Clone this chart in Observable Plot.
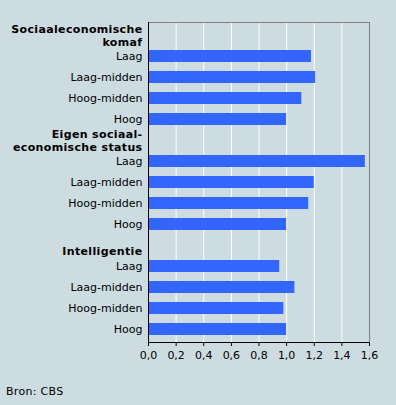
<!DOCTYPE html>
<html>
<head>
<meta charset="utf-8">
<script src="https://cdn.jsdelivr.net/npm/d3@7"></script>
<script src="https://cdn.jsdelivr.net/npm/@observablehq/plot@0.6"></script>
<style>
  html, body { margin: 0; padding: 0; background: #cddce1; }
  body { width: 396px; height: 405px; position: relative; overflow: hidden; font-family: "DejaVu Sans", Verdana, sans-serif; }
  #caption { position: absolute; left: 6px; top: 385px; font-size: 11px; color: #000; letter-spacing: 0.3px; }
</style>
</head>
<body>
<div id="chart"></div>
<div id="caption">Bron: CBS</div>
<script>
const groups = ["Sociaaleconomische\nkomaf", "Eigen sociaal-\neconomische status", "Intelligentie"];
const levels = ["Laag", "Laag-midden", "Hoog-midden", "Hoog"];
const komaf = [1.18, 1.21, 1.11, 1.00];
const status = [1.57, 1.20, 1.16, 1.00];
const intelligentie = [0.95, 1.06, 0.98, 1.00];
const xTicks = [0, 0.2, 0.4, 0.6, 0.8, 1.0, 1.2, 1.4, 1.6];

const series = [komaf, status, intelligentie];
const rows = [];
groups.forEach((g, gi) => {
  rows.push({id: "h" + gi, label: g, header: true, group: gi});
  levels.forEach((l, li) => rows.push({id: gi + "-" + l, label: l, value: series[gi][li], header: false, group: gi}));
});
const bars = rows.filter(d => !d.header);
const fmt = v => d3.format(".1f")(v).replace(".", ",");

const chart = Plot.plot({
  width: 396,
  height: 372,
  marginLeft: 148,
  marginRight: 27,
  marginTop: 22,
  marginBottom: 30,
  style: {background: "#cddce1", fontFamily: "'DejaVu Sans', Verdana, sans-serif", fontSize: "11px", color: "#000"},
  x: {domain: [0, 1.6], label: null},
  y: {domain: rows.map(d => d.id), paddingInner: 0.415, paddingOuter: 0.2075, axis: null, label: null},
  marks: [
    Plot.gridX(xTicks, {stroke: "#ffffff", strokeOpacity: 1, strokeWidth: 1}),
    Plot.frame({stroke: "#808080"}),
    Plot.barX(bars, {x: "value", y: "id", fill: "#3366ff"}),
    Plot.ruleX([0], {stroke: "#000"}),
    Plot.axisX(xTicks, {tickFormat: fmt, tickSize: 4, tickPadding: 5, stroke: "#000", fill: "#000", fontSize: 11, label: null}),
    Plot.frame({anchor: "bottom", stroke: "#000"}),
    Plot.text(bars, {y: "id", text: "label", frameAnchor: "left", textAnchor: "end", dx: -6, fill: "#000", fontSize: 11}),
    Plot.text(rows.filter(d => d.header && d.group < 2), {y: "id", text: "label", frameAnchor: "left", textAnchor: "end", dx: -6, fill: "#000", fontWeight: "bold", fontSize: 11, lineHeight: 1.2}),
    Plot.text(rows.filter(d => d.header && d.group === 2), {y: "id", text: "label", frameAnchor: "left", textAnchor: "end", dx: -6, dy: 6, fill: "#000", fontWeight: "bold", fontSize: 11})
  ]
});
chart.querySelectorAll('g[font-weight="bold"]').forEach(g => g.setAttribute("letter-spacing", "0.35"));
document.getElementById("chart").appendChild(chart);
</script>
</body>
</html>
